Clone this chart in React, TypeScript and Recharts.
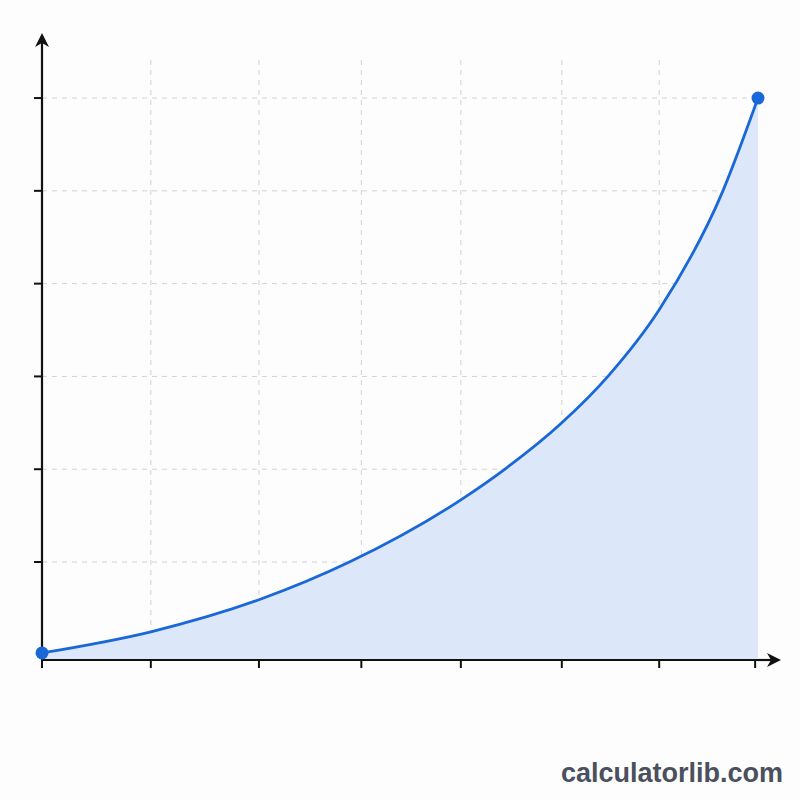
import React from "react";
import { ComposedChart, Area, XAxis, YAxis, CartesianGrid } from "recharts";

// x positions (arbitrary units, 0..100) and values
const xValues = [0, 15.2, 30.3, 43.0, 58.5, 64.9, 72.6, 79.1, 86.2, 95.1, 100];
const yValues = [20, 248, 593, 1002, 1670, 2015, 2500, 3006, 3718, 5000, 6000];
const xTicks = [0, 15.2, 30.3, 44.6, 58.5, 72.6, 86.2, 99.6];
const yTicks = [1000, 2000, 3000, 4000, 5000, 6000];
const gridXValues = [15.2, 30.3, 44.6, 58.5, 72.6, 86.2];

const data = xValues.map((x, i) => ({ x, y: yValues[i] }));

const LINE = "#1a68d8";
const FILL = "#dce8fa";
const AXIS = "#111111";

const W = 800;
const H = 800;
const M = { top: 60, right: 42, bottom: 0, left: 0 };
const Y_AXIS_W = 42;
const X_AXIS_H = 140;
const plotLeft = Y_AXIS_W;
const plotRight = W - M.right;
const plotTop = M.top;
const plotBottom = H - X_AXIS_H;

const EndDot = (props: any) => {
  const { cx, cy, index } = props;
  if (index !== 0 && index !== data.length - 1) return <g key={`d${index}`} />;
  return <circle key={`d${index}`} cx={cx} cy={cy} r={6.5} fill={LINE} stroke="none" />;
};

export default function App() {
  return (
    <div
      style={{
        position: "absolute",
        left: 0,
        top: 0,
        width: W,
        height: H,
        background: "#fdfdfd",
      }}
    >
      <ComposedChart width={W} height={H} data={data} margin={M}>
        <CartesianGrid
          stroke="#d2d2d2"
          strokeDasharray="5 5"
          strokeWidth={1}
          verticalValues={gridXValues}
          horizontalValues={yTicks}
        />
        <XAxis
          type="number"
          dataKey="x"
          domain={[0, 100]}
          ticks={xTicks}
          height={X_AXIS_H}
          tickSize={8}
          tickFormatter={() => ""}
          axisLine={{ stroke: AXIS, strokeWidth: 2.2 }}
          tickLine={{ stroke: AXIS, strokeWidth: 2 }}
        />
        <YAxis
          type="number"
          domain={[-56, 6410]}
          ticks={yTicks}
          width={Y_AXIS_W}
          tickSize={8}
          tickFormatter={() => ""}
          axisLine={{ stroke: AXIS, strokeWidth: 2.2 }}
          tickLine={{ stroke: AXIS, strokeWidth: 2 }}
        />
        <Area
          type="monotone"
          dataKey="y"
          baseValue="dataMin"
          fill={FILL}
          fillOpacity={1}
          stroke={LINE}
          strokeWidth={2.8}
          dot={EndDot}
          activeDot={false}
          isAnimationActive={false}
        />
      </ComposedChart>
      <svg
        width={W}
        height={H}
        style={{ position: "absolute", left: 0, top: 0, pointerEvents: "none" }}
      >
        <line x1={plotLeft} y1={plotTop} x2={plotLeft} y2={40} stroke={AXIS} strokeWidth={2.2} />
        <path
          d={`M ${plotLeft} 33 L ${plotLeft + 7} 47 L ${plotLeft} 43 L ${plotLeft - 7} 47 Z`}
          fill={AXIS}
        />
        <line x1={plotRight} y1={plotBottom} x2={774} y2={plotBottom} stroke={AXIS} strokeWidth={2.2} />
        <path
          d={`M 781 ${plotBottom} L 767 ${plotBottom - 7} L 771 ${plotBottom} L 767 ${plotBottom + 7} Z`}
          fill={AXIS}
        />
        <text
          x={783}
          y={782}
          textAnchor="end"
          fontFamily="'Liberation Sans', Arial, sans-serif"
          fontWeight="bold"
          fontSize={27}
          fill="#4a505e"
        >
          calculatorlib.com
        </text>
      </svg>
    </div>
  );
}
